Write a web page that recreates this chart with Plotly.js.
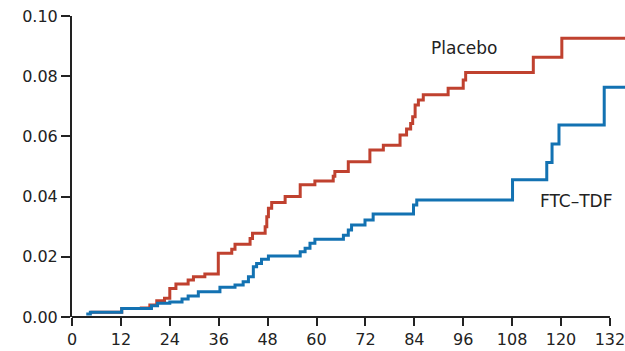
<!DOCTYPE html>
<html>
<head>
<meta charset="utf-8">
<script src="https://cdn.plot.ly/plotly-3.0.1.min.js"></script>
<style>html,body{margin:0;padding:0;background:#fff;}</style>
</head>
<body>
<div id="chart" style="width:625px;height:351px;"></div>
<script>
// Placebo cumulative incidence (step function)
const placeboMonths = [4.5, 12.2, 17, 19.1, 20.8, 22.7, 24, 25.5, 28.5, 29.8, 32.6, 35.9, 39.2, 40, 43.7, 44.3, 47.4, 47.8, 48.2, 49, 52.3, 56, 59.6, 64.1, 64.5, 67.8, 73.1, 76.4, 80.5, 82.1, 83.1, 83.6, 84.2, 85, 86.2, 92.3, 96, 96.6, 113.2, 120.2, 136];
const placeboValues = [0.0016, 0.0028, 0.003, 0.004, 0.0054, 0.0062, 0.0095, 0.011, 0.0123, 0.0134, 0.0143, 0.0212, 0.0225, 0.0242, 0.0261, 0.0278, 0.03, 0.0333, 0.0361, 0.038, 0.04, 0.0439, 0.0452, 0.0468, 0.0483, 0.0516, 0.0555, 0.0571, 0.0605, 0.0625, 0.0643, 0.0665, 0.0704, 0.0721, 0.0738, 0.076, 0.0787, 0.0812, 0.0863, 0.0926, 0.0926];

// FTC-TDF cumulative incidence (step function)
const ftcMonths = [3.5, 4.5, 12.2, 19.5, 21, 24, 27, 28.5, 31, 36.3, 40, 42, 43.3, 44.5, 45.3, 46.5, 48.2, 56, 57.2, 58.4, 59.6, 66.6, 67.8, 68.6, 71.9, 73.9, 83.8, 84.6, 108.1, 116.5, 117.8, 119.5, 130.6, 136];
const ftcValues = [0.001, 0.0016, 0.0028, 0.0037, 0.0046, 0.005, 0.006, 0.007, 0.0084, 0.0099, 0.0106, 0.0117, 0.0134, 0.0167, 0.0178, 0.0192, 0.0203, 0.0217, 0.0228, 0.0245, 0.0258, 0.0272, 0.0289, 0.0306, 0.0322, 0.0342, 0.0372, 0.0389, 0.0456, 0.0513, 0.0575, 0.0638, 0.0763, 0.0763];

const xTickVals = [0, 12, 24, 36, 48, 60, 72, 84, 96, 108, 120, 132];
const yTickVals = [0, 0.02, 0.04, 0.06, 0.08, 0.10];
const yTickText = ['0.00', '0.02', '0.04', '0.06', '0.08', '0.10'];

const seriesNames = ['Placebo', 'FTC\u2013TDF'];

const xMax = 135.7;
const xAxisEnd = 132;

const RED = '#c0412f';
const BLUE = '#1372b2';
const FONT = 'DejaVu Sans, sans-serif';

const traces = [
  {x: placeboMonths, y: placeboValues, type: 'scatter', mode: 'lines', name: seriesNames[0],
   line: {shape: 'hv', color: RED, width: 3}},
  {x: ftcMonths, y: ftcValues, type: 'scatter', mode: 'lines', name: seriesNames[1],
   line: {shape: 'hv', color: BLUE, width: 3}}
];

const layout = {
  width: 625, height: 351,
  margin: {l: 72, r: 0, t: 16, b: 34, pad: 0},
  paper_bgcolor: '#fff', plot_bgcolor: '#fff',
  showlegend: false,
  font: {family: FONT, size: 16, color: '#222'},
  xaxis: {
    range: [0, xMax], tickvals: xTickVals, ticktext: xTickVals.map(String),
    ticks: 'outside', ticklen: 8, tickwidth: 2, tickcolor: '#222',
    ticklabeloverflow: 'allow',
    showline: false, showgrid: false, zeroline: false,
    tickfont: {family: FONT, size: 16, color: '#222'}, fixedrange: true
  },
  yaxis: {
    range: [0, 0.10], tickvals: yTickVals, ticktext: yTickText,
    ticks: 'outside', ticklen: 9, tickwidth: 2, tickcolor: '#222',
    ticklabeloverflow: 'allow',
    showline: true, linewidth: 2, linecolor: '#222',
    showgrid: false, zeroline: false,
    tickfont: {family: FONT, size: 16, color: '#222'}, fixedrange: true
  },
  shapes: [
    {type: 'line', xref: 'paper', yref: 'paper', x0: 0, x1: xAxisEnd / xMax, y0: 0, y1: 0,
     line: {color: '#222', width: 2}}
  ],
  annotations: [
    {x: 96.3, y: 0.0894, xref: 'x', yref: 'y', text: seriesNames[0], showarrow: false,
     font: {family: FONT, size: 17, color: '#222'}},
    {x: 123.9, y: 0.0385, xref: 'x', yref: 'y', text: seriesNames[1], showarrow: false,
     font: {family: FONT, size: 17, color: '#222'}}
  ]
};

Plotly.newPlot('chart', traces, layout, {displayModeBar: false, staticPlot: true});
</script>
</body>
</html>
